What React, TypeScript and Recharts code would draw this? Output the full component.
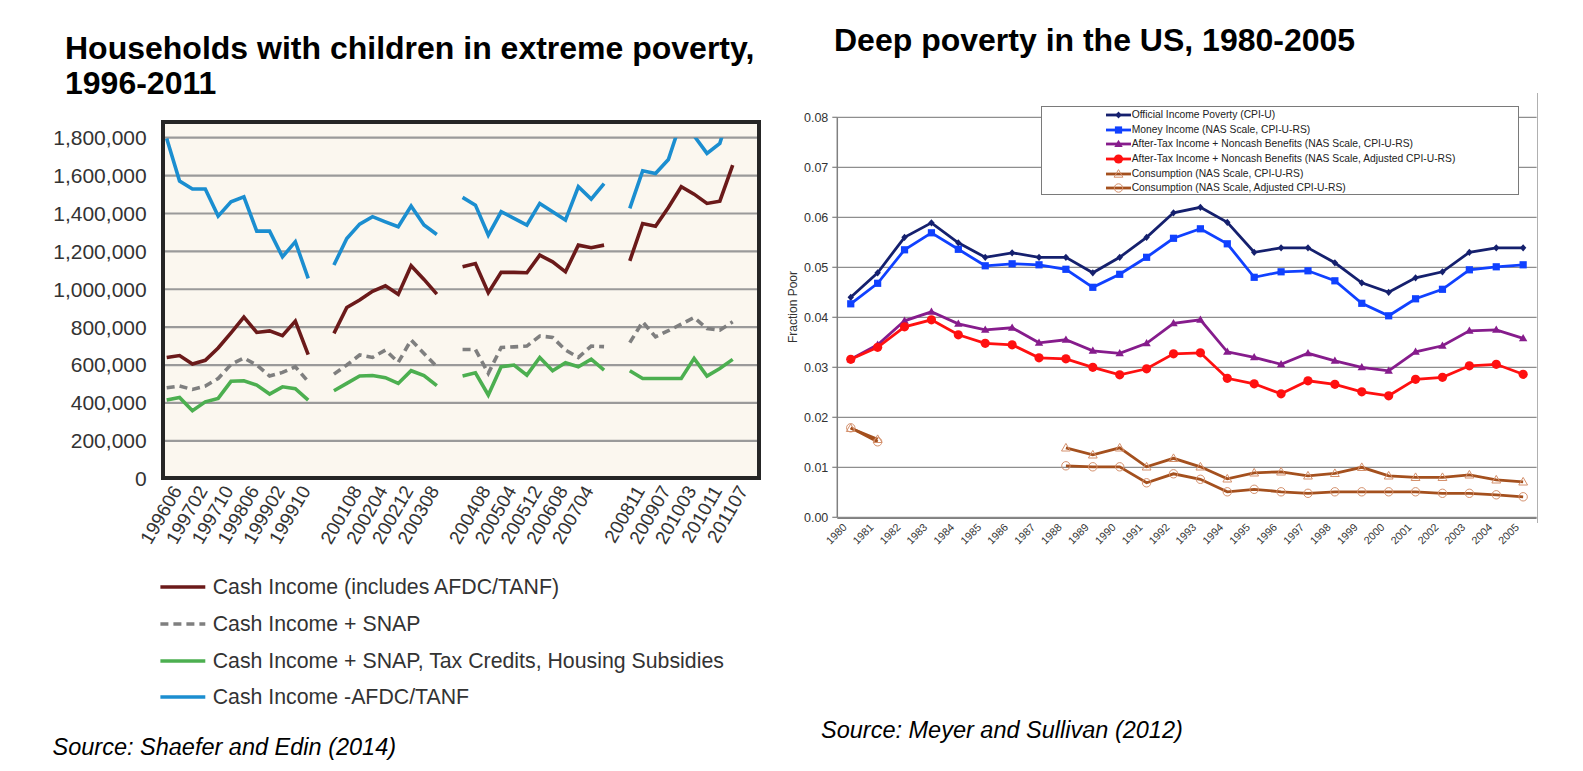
import React from 'react';
import { LineChart, Line, XAxis, YAxis, CartesianGrid, Legend } from 'recharts';

const FONT = '"Liberation Sans", Arial, Helvetica, sans-serif';

// ---------------- Left chart: Households with children in extreme poverty ----------------
const periods = [
  '199606', '199610', '199702', '199706', '199710', '199802', '199806', '199810', '199902', '199906', '199910', '200002',
  '',
  '200104', '200108', '200112', '200204', '200208', '200212', '200304', '200308', '200312',
  '',
  '200404', '200408', '200412', '200504', '200508', '200512', '200604', '200608', '200612', '200704', '200708', '200712',
  '',
  '200811', '200903', '200907', '200911', '201003', '201007', '201011', '201103', '201107',
];
const periodLabels = [
  '199606', '199702', '199710', '199806', '199902', '199910',
  '200108', '200204', '200212', '200308',
  '200408', '200504', '200512', '200608', '200704',
  '200811', '200907', '201003', '201011', '201107',
];
const leftTicks = [0, 200000, 400000, 600000, 800000, 1000000, 1200000, 1400000, 1600000, 1800000];

const cashIncome = [
  640000, 650000, 605000, 625000, 690000, 770000, 853000, 772000, 780000, 755000, 832000, 655000,
  null,
  767000, 904000, 943000, 989000, 1018000, 973000, 1124000, 1052000, 974000,
  null,
  1119000, 1136000, 982000, 1089000, 1089000, 1087000, 1180000, 1145000, 1092000, 1233000, 1219000, 1233000,
  null,
  1150000, 1347000, 1333000, 1432000, 1541000, 1502000, 1453000, 1465000, 1655000,
];
const cashSnap = [
  480000, 489000, 471000, 489000, 529000, 603000, 637000, 600000, 542000, 561000, 591000, 512000,
  null,
  552000, 600000, 653000, 640000, 679000, 614000, 732000, 661000, 591000,
  null,
  682000, 682000, 556000, 693000, 696000, 700000, 753000, 746000, 679000, 640000, 700000, 697000,
  null,
  718000, 828000, 749000, 781000, 816000, 851000, 793000, 784000, 828000,
];
const cashSnapCredits = [
  415000, 429000, 359000, 406000, 424000, 514000, 517000, 494000, 447000, 485000, 475000, 415000,
  null,
  464000, 503000, 542000, 545000, 533000, 503000, 570000, 544000, 491000,
  null,
  542000, 559000, 442000, 591000, 600000, 547000, 640000, 570000, 612000, 591000, 631000, 573000,
  null,
  570000, 529000, 529000, 529000, 529000, 635000, 542000, 582000, 630000,
];
const cashNoTanf = [
  1796000, 1571000, 1529000, 1529000, 1386000, 1462000, 1488000, 1307000, 1307000, 1171000, 1251000, 1057000,
  null,
  1128000, 1268000, 1344000, 1383000, 1356000, 1330000, 1439000, 1339000, 1289000,
  null,
  1485000, 1444000, 1286000, 1409000, 1374000, 1339000, 1453000, 1409000, 1365000, 1541000, 1476000, 1558000,
  null,
  1427000, 1625000, 1611000, 1685000, 1890000, 1810000, 1717000, 1770000, 1990000,
];

const leftSeries = [
  { key: 'cash', name: 'Cash Income (includes AFDC/TANF)', color: '#6B1A1A', dash: undefined as string | undefined },
  { key: 'snap', name: 'Cash Income + SNAP', color: '#7F7F7F', dash: '8 5' },
  { key: 'credits', name: 'Cash Income + SNAP, Tax Credits, Housing Subsidies', color: '#4CAF50', dash: undefined },
  { key: 'notanf', name: 'Cash Income -AFDC/TANF', color: '#1B8ED0', dash: undefined },
];

const leftData = periods.map((p, i) => ({
  period: p,
  cash: cashIncome[i],
  snap: cashSnap[i],
  credits: cashSnapCredits[i],
  notanf: cashNoTanf[i],
}));

// ---------------- Right chart: Deep poverty in the US ----------------
const years = [1980, 1981, 1982, 1983, 1984, 1985, 1986, 1987, 1988, 1989, 1990, 1991, 1992,
  1993, 1994, 1995, 1996, 1997, 1998, 1999, 2000, 2001, 2002, 2003, 2004, 2005];
const rightTicks = [0, 0.01, 0.02, 0.03, 0.04, 0.05, 0.06, 0.07, 0.08];

const officialPoverty = [0.0440, 0.0489, 0.0560, 0.0589, 0.0549, 0.0520, 0.0529, 0.0520, 0.0520, 0.0489, 0.0520, 0.0560, 0.0609,
  0.0620, 0.0590, 0.0530, 0.0539, 0.0539, 0.0509, 0.0469, 0.0450, 0.0479, 0.0491, 0.0530, 0.0539, 0.0539];
const moneyIncome = [0.0427, 0.0468, 0.0535, 0.0569, 0.0536, 0.0503, 0.0507, 0.0505, 0.0496, 0.0460, 0.0486, 0.0520, 0.0558,
  0.0577, 0.0547, 0.0480, 0.0491, 0.0493, 0.0473, 0.0428, 0.0403, 0.0437, 0.0456, 0.0495, 0.0501, 0.0505];
const afterTax = [0.0316, 0.0345, 0.0393, 0.0411, 0.0387, 0.0375, 0.0379, 0.0349, 0.0355, 0.0333, 0.0328, 0.0348, 0.0388,
  0.0395, 0.0331, 0.0320, 0.0306, 0.0328, 0.0313, 0.0300, 0.0293, 0.0331, 0.0343, 0.0373, 0.0375, 0.0358];
const afterTaxAdj = [0.0316, 0.0340, 0.0381, 0.0395, 0.0365, 0.0348, 0.0345, 0.0319, 0.0317, 0.0300, 0.0285, 0.0297, 0.0327,
  0.0329, 0.0278, 0.0267, 0.0247, 0.0273, 0.0266, 0.0251, 0.0243, 0.0276, 0.0280, 0.0303, 0.0306, 0.0286];
const consumption = [0.0178, 0.0156, null, null, null, null, null, null, 0.0139, 0.0125, 0.0139, 0.0101, 0.0118,
  0.0101, 0.0077, 0.0089, 0.0091, 0.0083, 0.0088, 0.0100, 0.0083, 0.0080, 0.0080, 0.0085, 0.0075, 0.0071];
const consumptionAdj = [0.0179, 0.0151, null, null, null, null, null, null, 0.0103, 0.0101, 0.0101, 0.0069, 0.0087,
  0.0076, 0.0051, 0.0056, 0.0051, 0.0048, 0.0051, 0.0051, 0.0051, 0.0051, 0.0048, 0.0048, 0.0045, 0.0041];

const rightData = years.map((y, i) => ({
  year: y,
  official: officialPoverty[i],
  money: moneyIncome[i],
  afterTax: afterTax[i],
  afterTaxAdj: afterTaxAdj[i],
  cons: consumption[i],
  consAdj: consumptionAdj[i],
}));
const yearBounds = [...years.map((y) => y - 0.5), years[years.length - 1] + 0.5];

const NAVY = '#15206E';
const BLUE = '#1041FF';
const PURPLE = '#861C8C';
const RED = '#FF1010';
const BROWN = '#A4501E';
const BROWN_LIGHT = '#D4906C';

type MarkerKind = 'diamond' | 'square' | 'triangle' | 'circle' | 'openTriangle' | 'openCircle';

const rightSeries: { key: string; name: string; color: string; marker: MarkerKind }[] = [
  { key: 'official', name: 'Official Income Poverty (CPI-U)', color: NAVY, marker: 'diamond' },
  { key: 'money', name: 'Money Income (NAS Scale, CPI-U-RS)', color: BLUE, marker: 'square' },
  { key: 'afterTax', name: 'After-Tax Income + Noncash Benefits (NAS Scale, CPI-U-RS)', color: PURPLE, marker: 'triangle' },
  { key: 'afterTaxAdj', name: 'After-Tax Income + Noncash Benefits (NAS Scale, Adjusted CPI-U-RS)', color: RED, marker: 'circle' },
  { key: 'cons', name: 'Consumption (NAS Scale, CPI-U-RS)', color: BROWN, marker: 'openTriangle' },
  { key: 'consAdj', name: 'Consumption (NAS Scale, Adjusted CPI-U-RS)', color: BROWN, marker: 'openCircle' },
];

function markerShape(kind: MarkerKind, color: string, cx: number, cy: number, k?: any) {
  switch (kind) {
    case 'diamond':
      return <path key={k} d={`M${cx},${cy - 3.6} L${cx + 3.2},${cy} L${cx},${cy + 3.6} L${cx - 3.2},${cy} Z`} fill={color} />;
    case 'square':
      return <rect key={k} x={cx - 3.6} y={cy - 3.6} width={7.2} height={7.2} fill={color} />;
    case 'triangle':
      return <path key={k} d={`M${cx},${cy - 4.2} L${cx + 4.2},${cy + 3} L${cx - 4.2},${cy + 3} Z`} fill={color} />;
    case 'circle':
      return <circle key={k} cx={cx} cy={cy} r={4.6} fill={color} />;
    case 'openTriangle':
      return <path key={k} d={`M${cx},${cy - 4.4} L${cx + 4.4},${cy + 3.2} L${cx - 4.4},${cy + 3.2} Z`} fill="none" stroke={BROWN_LIGHT} strokeWidth={1} />;
    case 'openCircle':
    default:
      return <circle key={k} cx={cx} cy={cy} r={4.2} fill="none" stroke={BROWN_LIGHT} strokeWidth={1} />;
  }
}

const makeDot = (kind: MarkerKind, color: string) => (props: any) => {
  const { cx, cy, value, index } = props;
  if (value == null || cx == null || cy == null || Number.isNaN(cy)) return <g key={`d-${index}`} />;
  return markerShape(kind, color, cx, cy, `d-${index}`);
};

// ---------------- Tick renderers ----------------
const LeftXTick = (props: any) => {
  const { x, y, payload } = props;
  const label = payload?.value;
  if (!label || !periodLabels.includes(label)) return <g />;
  return (
    <text
      x={0}
      y={0}
      dy="0.72em"
      transform={`translate(${x + 4},${y + 5}) rotate(-60)`}
      textAnchor="end"
      fontSize={19}
      fill="#333"
      fontFamily={FONT}
    >
      {label}
    </text>
  );
};

const RightXTick = (props: any) => {
  const { x, y, payload } = props;
  return (
    <text
      x={0}
      y={0}
      dy="0.35em"
      transform={`translate(${x - 6},${y + 8}) rotate(-45)`}
      textAnchor="end"
      fontSize={10.8}
      fill="#333"
      fontFamily={FONT}
    >
      {payload.value}
    </text>
  );
};

// ---------------- Legends ----------------
const leftLegendRowY = [26.5, 63.5, 100.5, 136.5];
const LeftLegendContent = () => (
  <div style={{ position: 'relative', width: 620, height: 160, fontFamily: FONT }}>
    {leftSeries.map((s, i) => (
      <div
        key={s.key}
        style={{ position: 'absolute', left: 0, top: leftLegendRowY[i] - 12, height: 24, display: 'flex', alignItems: 'center', whiteSpace: 'nowrap' }}
      >
        <svg width={62.7} height={24} style={{ display: 'block' }}>
          <line x1={10.4} y1={12} x2={55.3} y2={12} stroke={s.color} strokeWidth={3.6} strokeDasharray={s.dash} />
        </svg>
        <span style={{ fontSize: 21.3, color: '#333', lineHeight: '24px' }}>{s.name}</span>
      </div>
    ))}
  </div>
);

const RightLegendContent = () => (
  <div
    style={{
      position: 'relative',
      width: 478,
      height: 89,
      boxSizing: 'border-box',
      border: '1.2px solid #7a7a7a',
      background: '#fff',
      fontFamily: FONT,
    }}
  >
    {rightSeries.map((s, i) => (
      <div
        key={s.key}
        style={{ position: 'absolute', left: 63, top: 8 + 14.65 * i - 7, height: 14, display: 'flex', alignItems: 'center', whiteSpace: 'nowrap' }}
      >
        <svg width={27} height={14} style={{ display: 'block' }}>
          <line x1={1} y1={7} x2={26} y2={7} stroke={s.color} strokeWidth={2.8} />
          {markerShape(s.marker, s.color, 13.5, 7)}
        </svg>
        <span style={{ fontSize: 10.3, color: '#222', lineHeight: '14px' }}>{s.name}</span>
      </div>
    ))}
  </div>
);

// ---------------- App ----------------
export default function App() {
  return (
    <div style={{ position: 'absolute', left: 0, top: 0, width: 1583, height: 771, background: '#fff', overflow: 'hidden', fontFamily: FONT }}>
      {/* Titles */}
      <div style={{ position: 'absolute', left: 65, top: 31.4, fontSize: 32, fontWeight: 'bold', lineHeight: '35px', color: '#000', whiteSpace: 'nowrap' }}>
        Households with children in extreme poverty,
        <br />
        1996-2011
      </div>
      <div style={{ position: 'absolute', left: 834, top: 23.4, fontSize: 32, fontWeight: 'bold', lineHeight: '35px', color: '#000', whiteSpace: 'nowrap' }}>
        Deep poverty in the US, 1980-2005
      </div>

      {/* Left chart frame background */}
      <div style={{ position: 'absolute', left: 161, top: 119.5, width: 600, height: 360, background: '#FBF7EF' }} />

      {/* Left chart */}
      <div style={{ position: 'absolute', left: 0, top: 0, zIndex: 1 }}>
        <LineChart width={800} height={771} data={leftData} margin={{ top: 137.7, right: 43, bottom: 291.3, left: 0 }}>
          <CartesianGrid vertical={false} stroke="#9a9a9a" strokeWidth={2.2} />
          <XAxis
            dataKey="period"
            type="category"
            interval={0}
            height={1}
            tickSize={0}
            tickMargin={0}
            axisLine={false}
            tickLine={false}
            padding={{ left: 1.7, right: 24.3 }}
            tick={<LeftXTick />}
          />
          <YAxis
            type="number"
            domain={[0, 1800000]}
            allowDataOverflow
            ticks={leftTicks}
            interval={0}
            width={165}
            tickSize={10}
            tickMargin={8.3}
            axisLine={false}
            tickLine={false}
            tickFormatter={(v: number) => v.toLocaleString('en-US')}
            tick={{ fontSize: 21, fill: '#333', fontFamily: FONT }}
          />
          {leftSeries.map((s) => (
            <Line
              key={s.key}
              type="linear"
              dataKey={s.key}
              name={s.name}
              stroke={s.color}
              strokeWidth={3.6}
              strokeDasharray={s.dash}
              dot={false}
              activeDot={false}
              isAnimationActive={false}
            />
          ))}
          <Legend
            layout="vertical"
            align="center"
            verticalAlign="middle"
            content={<LeftLegendContent />}
            wrapperStyle={{ position: 'absolute', left: 150, top: 560, width: 620, height: 160 }}
          />
        </LineChart>
      </div>

      {/* Left chart frame border */}
      <div style={{ position: 'absolute', left: 161, top: 119.5, width: 600, height: 360, boxSizing: 'border-box', border: '4px solid #262626', zIndex: 2, pointerEvents: 'none' }} />

      {/* Right chart */}
      <div style={{ position: 'absolute', left: 760, top: 0, zIndex: 1 }}>
        <LineChart width={823} height={771} data={rightData} margin={{ top: 117.3, right: 46.4, bottom: 251.7, left: 0 }}>
          <CartesianGrid vertical={false} stroke="#8e8e8e" strokeWidth={1.3} />
          <XAxis
            xAxisId="marks"
            dataKey="year"
            type="number"
            domain={[1979.5, 2005.5]}
            allowDataOverflow
            ticks={yearBounds}
            interval={0}
            height={1}
            tick={false}
            tickSize={5}
            tickLine={{ stroke: '#808080', strokeWidth: 1.2 }}
            axisLine={{ stroke: '#808080', strokeWidth: 1.5 }}
          />
          <XAxis
            dataKey="year"
            type="number"
            domain={[1979.5, 2005.5]}
            allowDataOverflow
            ticks={years}
            interval={0}
            height={1}
            tickSize={0}
            tickMargin={0}
            axisLine={false}
            tickLine={false}
            tick={<RightXTick />}
          />
          <YAxis
            type="number"
            domain={[0, 0.08]}
            ticks={rightTicks}
            interval={0}
            width={77.3}
            tickSize={5}
            tickMargin={4}
            tickLine={{ stroke: '#808080', strokeWidth: 1.2 }}
            axisLine={{ stroke: '#808080', strokeWidth: 1.5 }}
            tickFormatter={(v: number) => v.toFixed(2)}
            tick={{ fontSize: 12.5, fill: '#333', fontFamily: FONT }}
          />
          {rightSeries.map((s) => (
            <Line
              key={s.key}
              type="linear"
              dataKey={s.key}
              name={s.name}
              stroke={s.color}
              strokeWidth={2.8}
              dot={makeDot(s.marker, s.color)}
              activeDot={false}
              isAnimationActive={false}
            />
          ))}
          <Legend
            layout="vertical"
            align="center"
            verticalAlign="middle"
            content={<RightLegendContent />}
            wrapperStyle={{ position: 'absolute', left: 280.7, top: 106, width: 478, height: 89 }}
          />
        </LineChart>
      </div>

      {/* Right chart outer edge */}
      <div style={{ position: 'absolute', left: 1536.5, top: 93, width: 1.2, height: 430, background: '#b0b0b0' }} />

      {/* Right y-axis title */}
      <div
        style={{
          position: 'absolute',
          left: 793 - 50,
          top: 306.7 - 8,
          width: 100,
          height: 16,
          lineHeight: '16px',
          textAlign: 'center',
          fontSize: 12,
          color: '#333',
          transform: 'rotate(-90deg)',
          whiteSpace: 'nowrap',
          zIndex: 3,
        }}
      >
        Fraction Poor
      </div>

      {/* Sources */}
      <div style={{ position: 'absolute', left: 52.5, top: 735.5, fontSize: 23.5, fontStyle: 'italic', lineHeight: 1, color: '#000', whiteSpace: 'nowrap' }}>
        Source: Shaefer and Edin (2014)
      </div>
      <div style={{ position: 'absolute', left: 821, top: 718.5, fontSize: 23.5, fontStyle: 'italic', lineHeight: 1, color: '#000', whiteSpace: 'nowrap' }}>
        Source: Meyer and Sullivan (2012)
      </div>
    </div>
  );
}
